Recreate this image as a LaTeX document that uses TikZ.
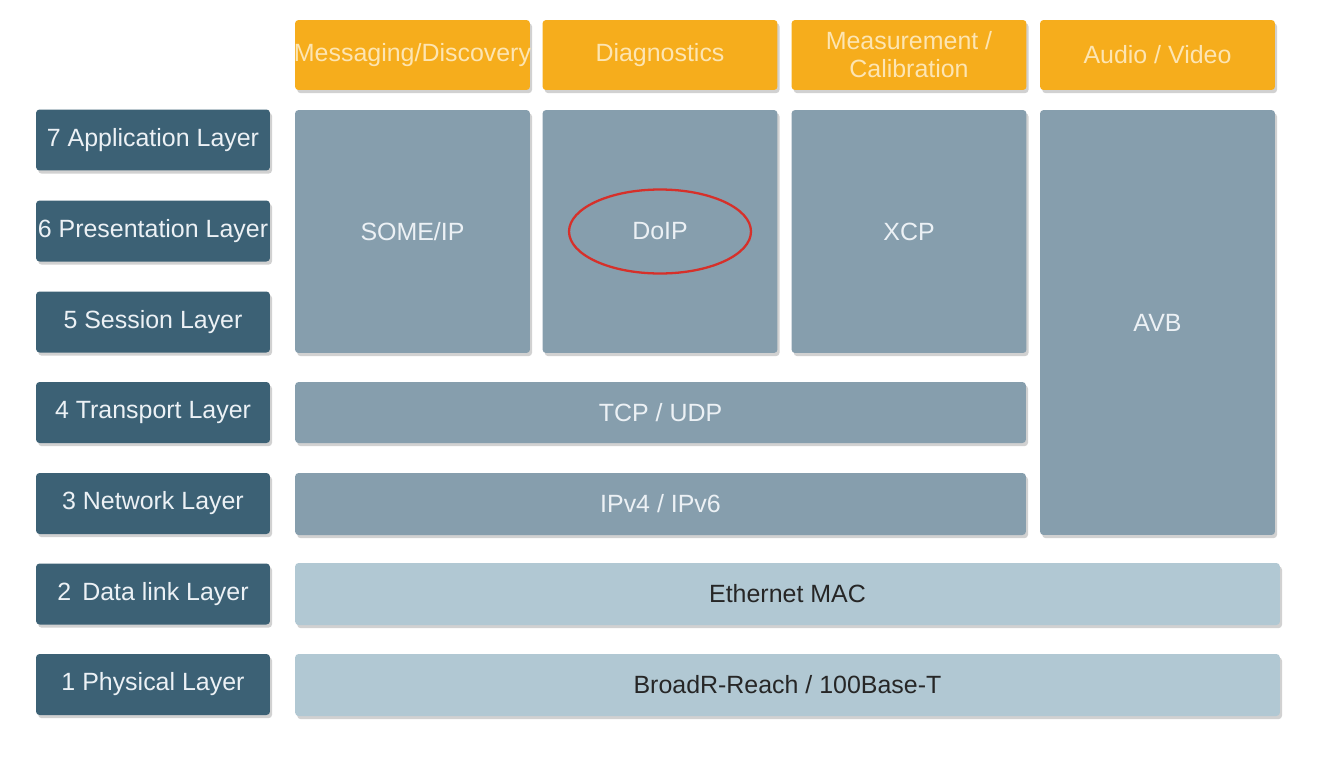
\documentclass[tikz,border=0pt]{standalone}
\usepackage{fontspec}
\setmainfont{Liberation Sans}
\usepackage{tikz}
\usetikzlibrary{shadows}

\definecolor{layerblue}{RGB}{60,97,117}
\definecolor{appgray}{RGB}{134,158,173}
\definecolor{linklight}{RGB}{177,200,211}
\definecolor{useorange}{RGB}{246,173,28}
\definecolor{paletext}{RGB}{236,241,245}
\definecolor{orangetext}{RGB}{253,229,178}
\definecolor{ringred}{RGB}{214,48,42}

\begin{document}
\begin{tikzpicture}[x=0.02cm,y=-0.02cm,
  box/.style={rounded corners=2pt,inner sep=1pt,align=center,
    font=\fontsize{14.2}{16}\selectfont,
    drop shadow={shadow xshift=1.2pt,shadow yshift=-1.8pt,fill=black!40,opacity=.45}},
  layerbox/.style={box,fill=layerblue,text=paletext,minimum width=4.68cm,minimum height=1.22cm},
  usebox/.style={box,fill=useorange,text=orangetext,minimum width=4.7cm,minimum height=1.4cm},
  protobox/.style={box,fill=appgray,text=paletext},
  linkbox/.style={box,fill=linklight,text=black!85,minimum width=19.7cm,minimum height=1.24cm}]
  \useasboundingbox[fill=white] (0,0) rectangle (1318,758);

  % OSI layers on the left
  \node[layerbox] (l7) at (153,140) {7 Application Layer};
  \node[layerbox] (l6) at (153,231) {\makebox[4.5cm]{6 Presentation Layer}};
  \node[layerbox] (l5) at (153,322) {5 Session Layer};
  \node[layerbox] (l4) at (153,412.5) {4 Transport Layer};
  \node[layerbox] (l3) at (153,503.5) {3 Network Layer};
  \node[layerbox] (l2) at (153,594) {2\, Data link Layer};
  \node[layerbox] (l1) at (153,684.5) {1 Physical Layer};

  % use cases
  \node[usebox] (msg) at (412.5,55) {\makebox[4.5cm]{Messaging/Discovery}};
  \node[usebox] (diag) at (660,55) {Diagnostics};
  \node[usebox] (meas) at (909,55) {Measurement /\\Calibration};
  \node[usebox] (av) at (1157.5,55) {Audio / Video};

  % protocols
  \node[protobox,minimum width=4.7cm,minimum height=4.86cm] (someip) at (412.5,231.5) {SOME/IP};
  \node[protobox,minimum width=4.7cm,minimum height=4.86cm] (doip) at (660,231.5) {DoIP};
  \node[protobox,minimum width=4.7cm,minimum height=4.86cm] (xcp) at (909,231.5) {XCP};
  \node[protobox,minimum width=4.7cm,minimum height=8.5cm] (avb) at (1157.5,322.5) {AVB};
  \node[protobox,minimum width=14.62cm,minimum height=1.22cm] (tcp) at (660.5,412.5) {TCP / UDP};
  \node[protobox,minimum width=14.62cm,minimum height=1.24cm] (ip) at (660.5,504) {IPv4 / IPv6};
  \node[linkbox] (mac) at (787.5,594) {Ethernet MAC};
  \node[linkbox] (phy) at (787.5,685) {BroadR-Reach / 100Base-T};

  \draw[ringred,line width=1.3pt] (doip.center) ellipse [x radius=1.82cm,y radius=0.84cm];
\end{tikzpicture}
\end{document}
